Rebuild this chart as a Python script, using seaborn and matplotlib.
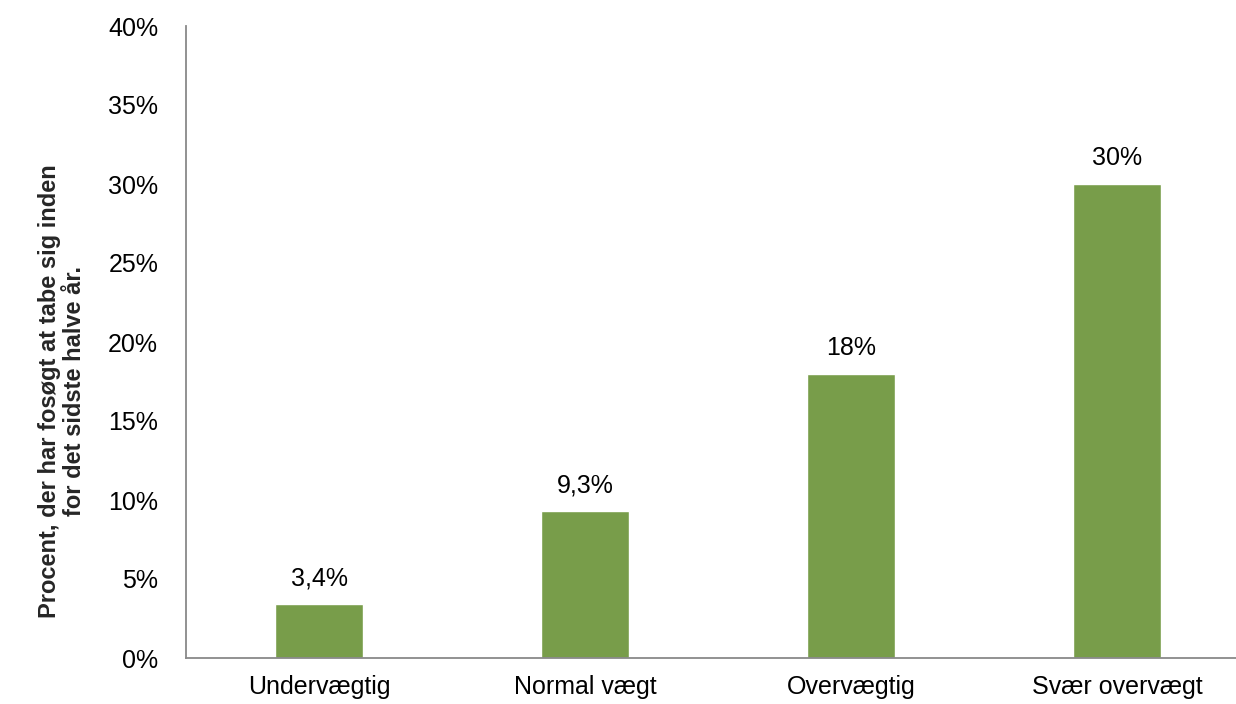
import matplotlib
matplotlib.use("Agg")
import matplotlib.pyplot as plt
import seaborn as sns
import pandas as pd

categories = ["Undervægtig", "Normal vægt", "Overvægtig", "Svær overvægt"]
values = [3.4, 9.3, 18, 30]
value_labels = ["3,4%", "9,3%", "18%", "30%"]
yticks = [0, 5, 10, 15, 20, 25, 30, 35, 40]
ytick_labels = ["0%", "5%", "10%", "15%", "20%", "25%", "30%", "35%", "40%"]
ylabel = "Procent, der har fosøgt at tabe sig inden\nfor det sidste halve år."

sns.set_theme(style="white")
plt.rcParams["font.family"] = ["Liberation Sans", "DejaVu Sans"]

df = pd.DataFrame({"cat": categories, "val": values})

fig = plt.figure(figsize=(12.36, 7.04), dpi=100)
ax = fig.add_axes([186 / 1236, 1 - 658 / 704, (1250 - 186) / 1236, (658 - 26) / 704])
sns.barplot(data=df, x="cat", y="val", color="#789D4A", saturation=1, width=0.33, ax=ax)

ax.set_ylim(0, 40)
ax.set_xlim(-0.5, 3.5)
ax.set_yticks(yticks)
ax.set_yticklabels(ytick_labels)
ax.tick_params(axis="both", length=0, labelsize=18, colors="black")
ax.tick_params(axis="x", pad=12)
ax.tick_params(axis="y", pad=20)
ax.set_xlabel("")
ax.set_ylabel(ylabel, fontsize=17, fontweight="bold", linespacing=1.1)
ax.yaxis.set_label_coords(-0.094, 0.422)

for s in ["top", "right"]:
    ax.spines[s].set_visible(False)
for s in ["left", "bottom"]:
    ax.spines[s].set_color("#898989")
    ax.spines[s].set_linewidth(1.3)

for i, (v, lab) in enumerate(zip(values, value_labels)):
    ax.annotate(lab, (i, v), xytext=(0, 10), textcoords="offset points",
                ha="center", va="bottom", fontsize=18, color="black")

fig.savefig("out.png", dpi=100)
